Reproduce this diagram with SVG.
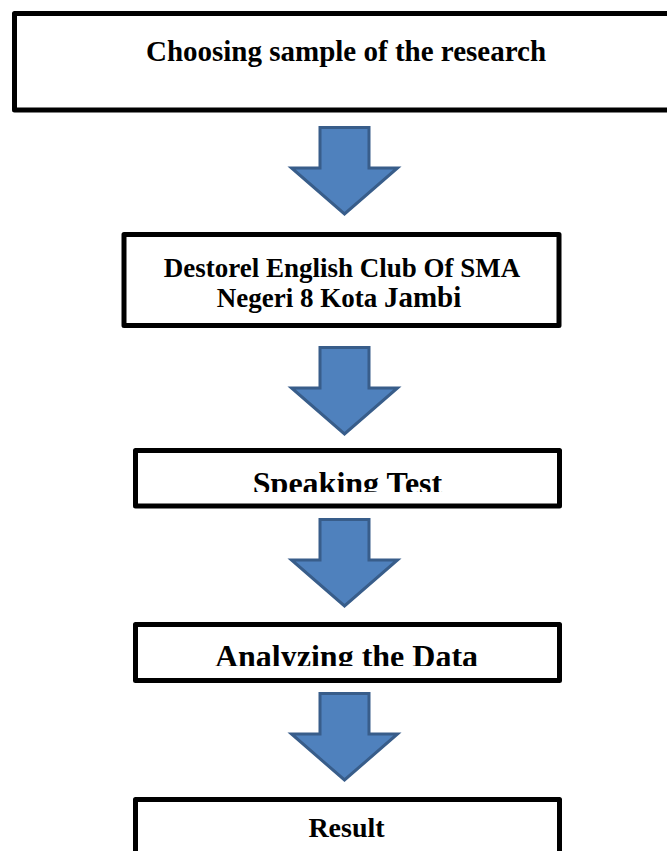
<svg xmlns="http://www.w3.org/2000/svg" width="667" height="851" viewBox="0 0 667 851">
<style>
.box{fill:#fff;stroke:#000;stroke-width:5;stroke-linejoin:round}
.t{font-family:"Liberation Serif","Times New Roman",serif;font-weight:bold;fill:#000;text-anchor:middle}
.arr{fill:#4F81BD;stroke:#385D8A;stroke-width:3;stroke-linejoin:miter}
</style>
<defs>
<clipPath id="c3"><rect x="0" y="440" width="667" height="52"/></clipPath>
<clipPath id="c4"><rect x="0" y="615" width="667" height="51"/></clipPath>
<path id="arrow" d="M-24.5,1.5 H24.5 V42 H53 L0,88 L-53,42 H-24.5 Z"/>
</defs>
<rect width="667" height="851" fill="#fff"/>
<g id="connectors">
<use href="#arrow" class="arr" transform="translate(344.5,126)"/>
<use href="#arrow" class="arr" transform="translate(344.5,346)"/>
<use href="#arrow" class="arr" transform="translate(344.5,518)"/>
<use href="#arrow" class="arr" transform="translate(344.5,692)"/>
</g>
<g id="n1">
<rect class="box" x="14.5" y="13.5" width="670" height="96.5"/>
<text class="t" x="346" y="61" font-size="29">Choosing sample of the research</text>
</g>
<g id="n2">
<rect class="box" x="124" y="234.5" width="435" height="91"/>
<text class="t" x="342" y="277" font-size="27">Destorel English Club Of SMA</text>
<text class="t" x="339" y="307" font-size="27">Negeri 8 Kota <tspan font-size="29">Jambi</tspan></text>
</g>
<g id="n3">
<rect class="box" x="135.5" y="450.5" width="424" height="55.5"/>
<text class="t" x="347.5" y="494" font-size="32" clip-path="url(#c3)">Speaking Test</text>
</g>
<g id="n4">
<rect class="box" x="135.5" y="624.5" width="424" height="56"/>
<text class="t" x="346.5" y="667" font-size="32" clip-path="url(#c4)">Analyzing the Data</text>
</g>
<g id="n5">
<rect class="box" x="135.5" y="799.5" width="424" height="70"/>
<text class="t" x="346.5" y="837" font-size="28">Result</text>
</g>
</svg>
